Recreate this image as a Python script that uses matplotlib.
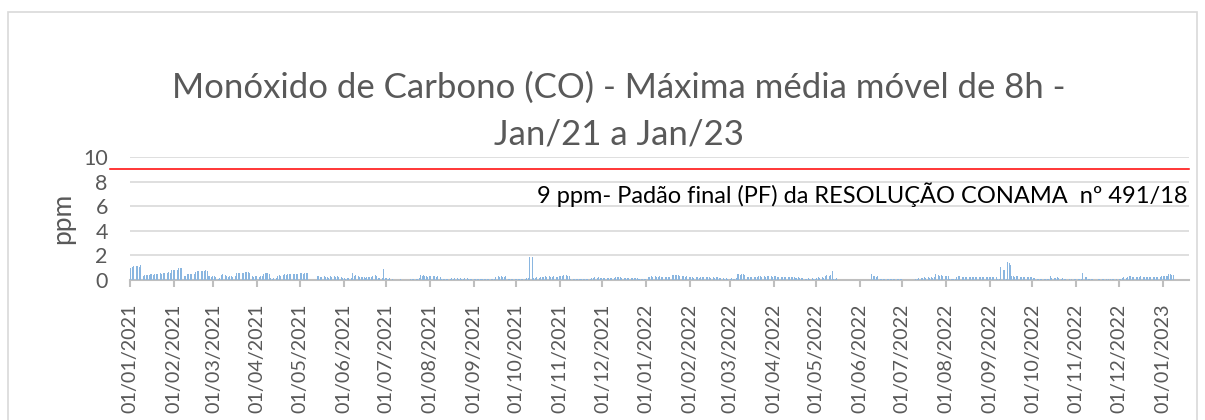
import numpy as np
import pandas as pd
import matplotlib
matplotlib.use('Agg')
import matplotlib.pyplot as plt
import matplotlib.dates as mdates
import matplotlib.transforms as mtransforms
from matplotlib.patches import Rectangle

nan = np.nan

# Max 8h moving average of CO (ppm), one value per day
jan_2021 = [1.0, 1.05, 1.1, 0.95, 1.1, 1.15, 1.05, 1.2, 0.3, 0.35, 0.4, 0.4, 0.38, 0.42, 0.45, 0.47,
            0.44, 0.46, 0.5, 0.45, 0.48, 0.55, 0.52, 0.58, 0.55, 0.6, 0.57, 0.62, 0.6, 0.8, 0.78]
feb_2021 = [0.82, 0.8, 0.85, 0.95, 0.98, 1.0, 0.92, 0.3, 0.35, 0.45, 0.5, 0.52, 0.48, 0.55, 0.5,
            0.65, 0.7, 0.72, 0.68, 0.75, 0.7, 0.73, 0.78, 0.7, 0.3, 0.32, 0.28, 0.3]
mar_2021 = [0.3, 0.25, 0.15, 0.12, 0.18, 0.4, 0.45, 0.5, 0.42, 0.3, 0.28, 0.32, 0.3, 0.27, 0.3, 0.33,
            0.55, 0.6, 0.58, 0.62, 0.6, 0.57, 0.65, 0.62, 0.68, 0.6, 0.3, 0.32, 0.28, 0.3, 0.3]
apr_2021 = [0.3, 0.28, 0.32, 0.3, 0.52, 0.55, 0.58, 0.55, 0.5, 0.15, 0.12, 0.18, 0.15, 0.2, 0.35,
            0.38, 0.33, 0.36, 0.4, 0.45, 0.44, 0.48, 0.45, 0.47, 0.5, 0.46, 0.48, 0.5, 0.47, 0.52]
may_2021 = [0.55, 0.58, 0.52, 0.55, 0.6, 0.55, 0.57, nan, nan, nan, nan, nan, 0.35, 0.3, 0.25, 0.28,
            0.22, 0.3, 0.25, 0.27, 0.2, 0.3, 0.28, 0.25, 0.32, 0.27, 0.3, 0.25, 0.22, 0.28, 0.15]
jun_2021 = [0.15, 0.12, 0.18, 0.15, 0.1, 0.15, 0.6, 0.35, 0.38, 0.33, 0.35, 0.25, 0.22, 0.28, 0.25,
            0.2, 0.27, 0.25, 0.23, 0.28, 0.35, 0.38, 0.4, 0.32, 0.2, 0.18, 0.22, 0.2, 0.9, 0.15]
jul_2021 = [0.15, 0.12, 0.15, 0.1, 0.08, 0.03, 0.02, 0.04, 0.03, 0.02, 0.05, 0.03, 0.02, 0.04, 0.03,
            0.05, 0.03, 0.06, 0.1, 0.12, 0.15, 0.1, 0.12, 0.14, 0.38, 0.35, 0.4, 0.3, 0.32, 0.28, 0.3]
aug_2021 = [0.3, 0.28, 0.32, 0.3, 0.27, 0.3, 0.25, 0.28, 0.08, 0.06, 0.1, 0.08, 0.07, 0.09, 0.12,
            0.15, 0.1, 0.13, 0.12, 0.14, 0.1, 0.15, 0.12, 0.11, 0.13, 0.1, 0.14, 0.12, 0.1, 0.12, 0.1]
sep_2021 = [0.1, 0.12, 0.1, 0.08, 0.1, 0.08, 0.06, 0.08, 0.07, 0.09, 0.08, 0.1, 0.08, 0.07, 0.1,
            0.25, 0.28, 0.3, 0.27, 0.3, 0.25, 0.28, 0.3, 0.1, 0.12, 0.1, 0.11, 0.12, 0.1, 0.1]
oct_2021 = [0.1, 0.12, 0.1, 0.08, 0.1, 0.15, 0.12, 0.15, 0.18, 1.85, 0.1, 1.9, 0.15, 0.2, 0.22,
            0.18, 0.2, 0.22, 0.28, 0.25, 0.3, 0.27, 0.25, 0.3, 0.28, 0.25, 0.3, 0.27, 0.25, 0.28, 0.3]
nov_2021 = [0.3, 0.35, 0.38, 0.32, 0.4, 0.35, 0.33, 0.1, 0.12, 0.1, 0.07, 0.05, 0.08, 0.06, 0.07,
            0.05, 0.08, 0.06, 0.07, 0.09, 0.05, 0.07, 0.2, 0.18, 0.22, 0.2, 0.18, 0.22, 0.2, 0.19]
dec_2021 = [0.17, 0.15, 0.18, 0.2, 0.16, 0.18, 0.15, 0.17, 0.19, 0.25, 0.27, 0.23, 0.25, 0.17, 0.15,
            0.18, 0.2, 0.16, 0.17, 0.15, 0.18, 0.2, 0.17, 0.15, 0.18, 0.1, 0.08, 0.1, 0.12, 0.1, 0.09]
jan_2022 = [0.1, 0.25, 0.28, 0.3, 0.27, 0.25, 0.3, 0.28, 0.26, 0.3, 0.25, 0.22, 0.27, 0.25, 0.23,
            0.26, 0.25, 0.4, 0.42, 0.38, 0.4, 0.43, 0.4, 0.3, 0.28, 0.32, 0.3, 0.28, 0.3, 0.32, 0.22]
feb_2022 = [0.22, 0.25, 0.2, 0.23, 0.25, 0.22, 0.2, 0.24, 0.22, 0.25, 0.2, 0.23, 0.22, 0.25,
            0.2, 0.22, 0.24, 0.2, 0.22, 0.25, 0.2, 0.18, 0.22, 0.15, 0.12, 0.15, 0.1, 0.12]
mar_2022 = [0.12, 0.15, 0.1, 0.12, 0.2, 0.45, 0.48, 0.42, 0.45, 0.47, 0.43, 0.45, 0.25, 0.22, 0.27,
            0.25, 0.23, 0.25, 0.28, 0.25, 0.3, 0.32, 0.28, 0.35, 0.3, 0.28, 0.32, 0.3, 0.35, 0.3, 0.28]
apr_2022 = [0.3, 0.32, 0.28, 0.25, 0.27, 0.23, 0.25, 0.28, 0.25, 0.22, 0.25, 0.27, 0.25, 0.23, 0.25,
            0.2, 0.18, 0.22, 0.2, 0.18, 0.2, 0.22, 0.12, 0.1, 0.15, 0.12, 0.1, 0.14, 0.12, 0.1]
may_2022 = [0.2, 0.22, 0.18, 0.2, 0.22, 0.2, 0.35, 0.38, 0.33, 0.35, 0.4, 0.7, 0.1, 0.12, 0.15, 0.12,
            nan, nan, nan, nan, nan, nan, nan, nan, nan, nan, nan, nan, nan, nan, nan]
jun_2022 = [nan, nan, nan, nan, nan, nan, nan, nan, 0.45, 0.3, 0.32, 0.28, 0.3, 0.08, 0.06,
            0.1, 0.08, 0.07, 0.09, 0.08, 0.06, 0.1, 0.08, 0.07, 0.09, 0.08, 0.1, 0.12, 0.1, 0.1]
jul_2022 = [nan, nan, nan, nan, nan, nan, nan, nan, nan, 0.05, 0.05, 0.2, 0.22, 0.18, 0.2, 0.22,
            0.2, 0.18, 0.22, 0.2, 0.22, 0.2, 0.25, 0.45, 0.47, 0.42, 0.35, 0.37, 0.33, 0.35, 0.36]
aug_2022 = [0.35, 0.33, 0.1, 0.12, 0.1, 0.08, 0.1, 0.28, 0.3, 0.32, 0.3, 0.28, 0.25, 0.27, 0.25,
            0.23, 0.26, 0.25, 0.27, 0.24, 0.25, 0.26, 0.28, 0.25, 0.27, 0.25, 0.24, 0.26, 0.28, 0.25, 0.27]
sep_2022 = [0.25, 0.27, 0.25, 0.28, 0.26, 0.1, 0.12, 1.05, 0.1, 0.8, 0.82, 0.1, 1.45, 1.4, 1.25,
            0.3, 0.32, 0.28, 0.3, 0.3, 0.25, 0.27, 0.25, 0.23, 0.26, 0.25, 0.27, 0.24, 0.26, 0.25]
oct_2022 = [0.15, 0.15, 0.1, 0.12, 0.08, 0.1, 0.12, 0.1, 0.08, 0.1, 0.05, 0.05, 0.35, 0.2, 0.22,
            0.18, 0.2, 0.22, 0.2, 0.12, 0.1, 0.14, 0.12, 0.1, 0.05, 0.04, 0.06, 0.05, 0.04, 0.05, 0.06]
nov_2022 = [0.08, 0.07, 0.08, 0.1, 0.6, 0.25, 0.27, 0.22, 0.1, 0.12, 0.08, 0.1, nan, nan, nan,
            0.12, 0.1, 0.13, 0.12, 0.05, 0.04, 0.06, 0.05, 0.04, 0.05, 0.06, 0.05, 0.04, 0.05, 0.06]
dec_2022 = [0.05, 0.05, 0.2, 0.22, 0.18, 0.2, 0.22, 0.3, 0.32, 0.28, 0.27, 0.25, 0.28, 0.26, 0.27,
            0.3, 0.25, 0.27, 0.28, 0.26, 0.27, 0.25, 0.28, 0.3, 0.27, 0.26, 0.28, 0.27, 0.3, 0.28, 0.3]
jan_2023 = [0.3, 0.32, 0.3, 0.33, 0.47, 0.45, 0.42, 0.4]

months = [jan_2021, feb_2021, mar_2021, apr_2021, may_2021, jun_2021, jul_2021, aug_2021,
          sep_2021, oct_2021, nov_2021, dec_2021, jan_2022, feb_2022, mar_2022, apr_2022,
          may_2022, jun_2022, jul_2022, aug_2022, sep_2022, oct_2022, nov_2022, dec_2022, jan_2023]

limit_ppm = 9
limit_text = '9 ppm- Padão final (PF) da RESOLUÇÃO CONAMA  nº 491/18'
title_lines = ['Monóxido de Carbono (CO) - Máxima média móvel de 8h -', 'Jan/21 a Jan/23']

# build the daily series month by month
month_starts = pd.date_range('2021-01-01', periods=len(months), freq='MS')
dates = []
values = []
for start, vals in zip(month_starts, months):
    dates.extend(pd.date_range(start, periods=len(vals), freq='D'))
    values.extend(vals)
dates = pd.DatetimeIndex(dates)
values = np.array(values, dtype=float)

plt.rcParams['font.family'] = ['Lato', 'DejaVu Sans']
grey = '#595959'

fig = plt.figure(figsize=(12.05, 4.2), dpi=100)
W, H = 1205, 420
ax = fig.add_axes([130 / W, 1 - 280 / H, (1189 - 130) / W, (280 - 157) / H])

# chart area border
fig.patches.append(Rectangle((8 / W, -0.1), (1197 - 8) / W, 1.1 - 12 / H, transform=fig.transFigure,
                             fill=False, edgecolor='#D9D9D9', linewidth=1.2))

x = mdates.date2num(dates) + 0.5
ax.bar(x, np.nan_to_num(values), width=0.6, color='#8AB6E0', linewidth=0, zorder=3)

ax.set_ylim(0, 10)
ax.set_yticks(np.arange(0, 11, 2))
ax.set_xlim(mdates.datestr2num('2021-01-01'), mdates.datestr2num('2023-01-19') + 0.7)
ax.xaxis.set_major_locator(mdates.MonthLocator())
ax.xaxis.set_major_formatter(mdates.DateFormatter('%d/%m/%Y'))

for s in ['top', 'right', 'left']:
    ax.spines[s].set_visible(False)
ax.spines['bottom'].set_color('#BFBFBF')
ax.spines['bottom'].set_linewidth(1.5)
ax.grid(axis='y', color='#D9D9D9', linewidth=1.2, zorder=0)
ax.set_axisbelow(True)
ax.tick_params(axis='y', length=0, pad=16, labelsize=15.5, labelcolor=grey)
ax.tick_params(axis='x', length=5, width=1.5, color='#BFBFBF', pad=12, labelsize=14.2,
               labelcolor=grey, labelrotation=90)

# limit line (starts left of plot area, like the drawn shape in the original)
ax.axhline(limit_ppm, xmin=-0.019, xmax=1.0, color='#FF0000', linewidth=1.1, clip_on=False, zorder=4)
trans = mtransforms.blended_transform_factory(ax.transAxes, ax.transData)
ax.text(0.999, 6.9, limit_text, transform=trans, ha='right', va='center', fontsize=17, color='black')

fig.text(63 / W, 1 - 218 / H, 'ppm', rotation=90, ha='center', va='center', fontsize=19, color=grey)
fig.text(619 / W, 1 - 88 / H, title_lines[0], ha='center', va='center', fontsize=25, color=grey)
fig.text(619 / W, 1 - 135 / H, title_lines[1], ha='center', va='center', fontsize=25, color=grey)

plt.savefig('out.png', dpi=100)
